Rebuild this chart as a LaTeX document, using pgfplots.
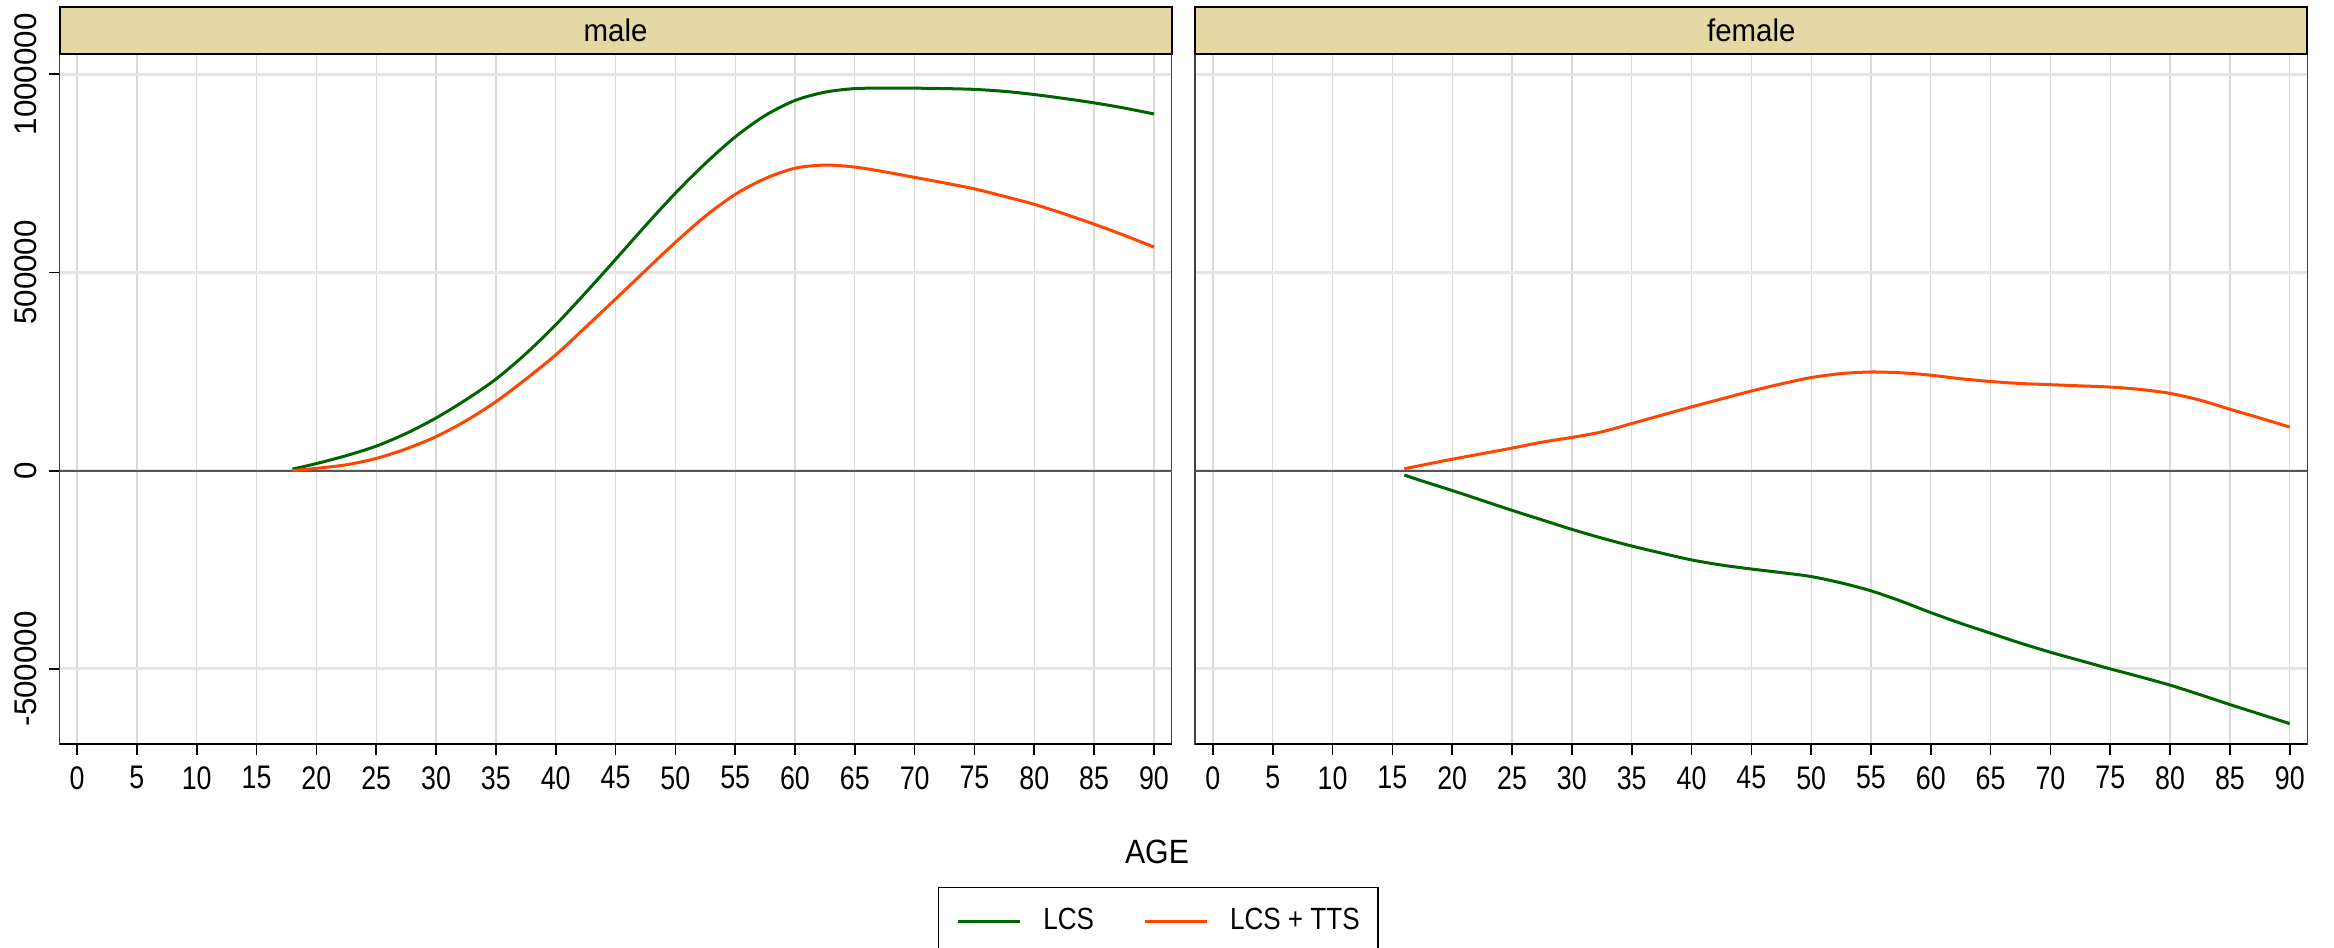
\documentclass[border=0pt]{standalone}
\usepackage{fontspec}
\setmainfont{Liberation Sans}[FakeStretch=0.85]
\newfontfamily\tickfam{Liberation Sans}[FakeStretch=0.82]
\newfontfamily\legfam{Liberation Sans}[FakeStretch=0.85]
\newfontfamily\agefam{Liberation Sans}[FakeStretch=0.9]
\newfontfamily\stripfam{Liberation Sans}[FakeStretch=0.94]
\newfontfamily\rotfam{Liberation Sans}
\usepackage{pgfplots}
\usepackage{pgfplotstable}
\pgfplotsset{compat=1.18}
\definecolor{lcs}{HTML}{006400}
\definecolor{tts}{HTML}{FF4500}
\definecolor{stripc}{HTML}{E5D8A5}
\definecolor{vgrid}{HTML}{D9D9D9}
\definecolor{hgrid}{HTML}{E5E5E5}
\definecolor{zeroc}{HTML}{555555}

\pgfplotstableread{
age val
18 4000
20 18000
22.5 38000
25 62000
27.5 94000
30 133000
32.5 179000
35 231000
37.5 295000
40 368000
42.5 449000
45 533000
47.5 618000
50 700000
52.5 775000
55 842000
57.5 896000
60 934000
62.5 955000
65 964000
67.5 965000
70 965000
72.5 964000
75 962000
77.5 957000
80 949000
82.5 939000
85 928000
87.5 915000
90 900000
}\maleLCS
\pgfplotstableread{
age val
18 0
20 6000
22.5 15000
25 31000
27.5 55000
30 86000
32.5 126000
35 174000
37.5 231000
40 292000
42.5 362000
45 433000
47.5 505000
50 576000
52.5 642000
55 697000
57.5 737000
60 763000
62.5 771000
65 766000
67.5 754000
70 740000
72.5 726000
75 711000
77.5 692000
80 672000
82.5 648000
85 622000
87.5 594000
90 564000
}\maleTTS
\pgfplotstableread{
age val
16 -11000
17.5 -26000
20 -50000
22.5 -75000
25 -100000
27.5 -124000
30 -148000
32.5 -170000
35 -190000
37.5 -208000
40 -225000
42.5 -238000
45 -248000
47.5 -257000
50 -267000
52.5 -283000
55 -303000
57.5 -329000
60 -358000
62.5 -385000
65 -410000
67.5 -435000
70 -458000
72.5 -479000
75 -500000
77.5 -520000
80 -541000
82.5 -565000
85 -590000
87.5 -614000
90 -638000
}\femaleLCS
\pgfplotstableread{
age val
16 5000
17.5 14000
20 29000
22.5 43000
25 57000
27.5 72000
30 84000
32.5 98000
35 119000
37.5 140000
40 161000
42.5 181000
45 201000
47.5 219000
50 235000
52.5 245000
55 249000
57.5 247000
60 241000
62.5 232000
65 225000
67.5 220000
70 217000
72.5 214000
75 211000
77.5 205000
80 195000
82.5 178000
85 155000
87.5 133000
90 110000
}\femaleTTS

\pgfplotsset{
  panel/.style={
    scale only axis, width=333.6pt, height=207pt,
    anchor=south west,
    xmin=-1.47, xmax=91.47, ymin=-688700, ymax=1052000,
    xtick={0,5,...,90},
    ytick={-500000,0,500000,1000000},
    scaled y ticks=false,
    xmajorgrids, ymajorgrids,
    x grid style={vgrid, line width=0.4pt},
    y grid style={hgrid, line width=0.85pt},
    tick align=outside, major tick length=3.3pt,
    xtick pos=left, ytick pos=left,
    tick style={black, line width=0.5pt},
    axis line style={black!75, line width=0.5pt},
    clip=false,
    /pgf/number format/assume math mode=true,
    xticklabel style={font=\tickfam\fontsize{9.8}{11}\selectfont},
    every axis plot/.append style={smooth, line width=0.9pt, no marks},
    legend image code/.code={\draw[##1] (0pt,0pt) -- (18.6pt,0pt);},
  }
}

\begin{document}
\begin{tikzpicture}
\path[use as bounding box] (0,0) rectangle (700.2pt,284.1pt);

\begin{axis}[panel,
  at={(17.85pt,60.99pt)},
  yticklabels={{-500000},{0},{500000},{1000000}},
  yticklabel style={rotate=90, anchor=south, font=\rotfam\fontsize{9.4}{10}\selectfont},
  legend style={at={(0.98786,-0.2072)}, anchor=north, legend columns=2,
    draw=black, line width=0.5pt, fill=white,
    inner xsep=5.4pt, inner ysep=6.3pt,
    font=\legfam\fontsize{9.2}{10}\selectfont,
    nodes={inner sep=0pt},
    /tikz/every odd column/.append style={column sep=6.6pt},
    /tikz/every even column/.append style={column sep=14.7pt}},
]
\draw[zeroc, line width=0.6pt] (axis cs:-1.47,0) -- (axis cs:91.47,0);
\addplot[lcs] table[x=age,y=val] {\maleLCS};
\addlegendentry{LCS}
\addplot[tts] table[x=age,y=val] {\maleTTS};
\addlegendentry{LCS + TTS}
\draw[black, line width=0.7pt] (rel axis cs:0,0) -- (rel axis cs:1,0);
\draw[fill=stripc, line width=0.6pt] (rel axis cs:0,1) rectangle ([yshift=13.92pt]rel axis cs:1,1);
\node[font=\stripfam\fontsize{9.4}{11}\selectfont] at ([yshift=6.96pt]rel axis cs:0.5,1) {male};
\end{axis}

\begin{axis}[panel,
  at={(358.59pt,60.99pt)},
  yticklabels={},
  ytick style={draw=none},
]
\draw[zeroc, line width=0.6pt] (axis cs:-1.47,0) -- (axis cs:91.47,0);
\addplot[lcs] table[x=age,y=val] {\femaleLCS};
\addplot[tts] table[x=age,y=val] {\femaleTTS};
\draw[black, line width=0.7pt] (rel axis cs:0,0) -- (rel axis cs:1,0);
\draw[fill=stripc, line width=0.6pt] (rel axis cs:0,1) rectangle ([yshift=13.92pt]rel axis cs:1,1);
\node[font=\stripfam\fontsize{9.4}{11}\selectfont] at ([yshift=6.96pt]rel axis cs:0.5,1) {female};
\end{axis}

\node[anchor=base, font=\agefam\fontsize{10.1}{12}\selectfont, inner sep=0pt] at (347.1pt,25.1pt) {AGE};
\end{tikzpicture}
\end{document}
